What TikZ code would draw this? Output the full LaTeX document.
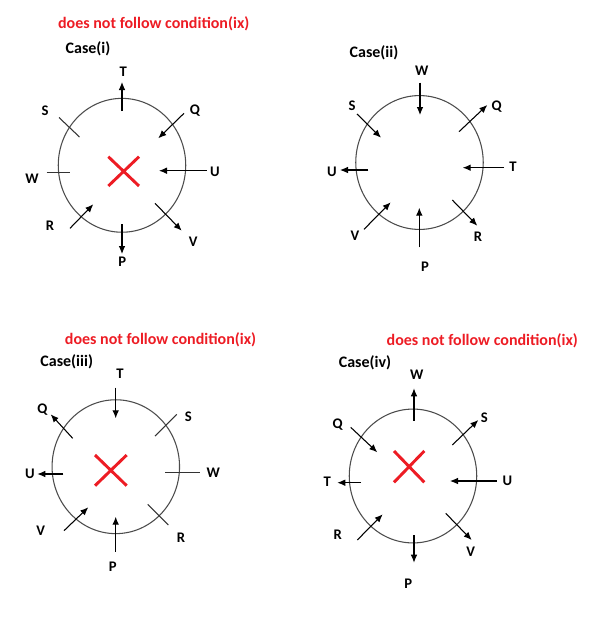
\documentclass[tikz,border=0pt]{standalone}
\usepackage{fontspec}
\setmainfont{Carlito}
\usetikzlibrary{arrows.meta}
\definecolor{warnred}{RGB}{237,28,36}

\begin{document}
\begin{tikzpicture}[x=0.75pt, y=-0.75pt,
	ring/.style={draw=black!70, line width=0.8pt},
	arr/.style={draw, line width=0.8pt, -{Latex[length=6pt,width=5pt]}},
	tick/.style={draw=black!80, line width=0.8pt},
	lbl/.style={font=\fontsize{11}{13}\selectfont\bfseries, inner sep=0pt},
	heading/.style={font=\fontsize{12}{14}\selectfont\bfseries, text=warnred, inner sep=0pt},
	casename/.style={font=\fontsize{12}{14}\selectfont\bfseries, inner sep=0pt},
	cross/.style={draw=warnred, line width=2.2pt}]
		
		\useasboundingbox (0,0) rectangle (605,619);
		
		% Case (i)
		\node[heading] (h1) at (153.7,24) {does not follow condition(ix)};
		\node[casename] (k1) at (88,49) {Case(i)};
		\coordinate (c1) at (122,165.3);
		\draw[ring] (c1) ellipse [x radius=47.8pt, y radius=50.2pt];
		\draw[arr] (122,111) -- (122,82);
		\draw[tick] (59,117.5) -- (79.5,137);
		\draw[arr] (184,113.3) -- (158.3,138.3);
		\draw[tick] (46.7,172.3) -- (70,172.3);
		\draw[arr] (206.7,170.7) -- (159,170.7);
		\draw[arr] (70,228.3) -- (93.3,204.3);
		\draw[arr] (122,224.3) -- (122,254);
		\draw[arr] (155,203.3) -- (181.7,230.7);
		\draw[cross] (108.3,156.7) -- (139,186) (139,156.7) -- (108.3,186);
		\node[lbl] (T1) at (123.3,72) {T};
		\node[lbl] (S1) at (45,110.5) {S};
		\node[lbl] (Q1) at (195,110.5) {Q};
		\node[lbl] (W1) at (32,179) {W};
		\node[lbl] (U1) at (215,172) {U};
		\node[lbl] (R1) at (50,225.7) {R};
		\node[lbl] (V1) at (193.3,241.5) {V};
		\node[lbl] (P1) at (122.3,261.7) {P};
		
		% Case (ii)
		\node[casename] (k2) at (374,53) {Case(ii)};
		\coordinate (c2) at (419.5,162.5);
		\draw[ring] (c2) ellipse [x radius=47.8pt, y radius=50.2pt];
		\draw[arr] (420,82.7) -- (420,115);
		\draw[arr] (357,114) -- (381,137.7);
		\draw[arr] (459,131.7) -- (487.3,105);
		\draw[arr] (368.3,170) -- (340,170);
		\draw[arr] (504,167.7) -- (462.7,167.7);
		\draw[arr] (364,229.3) -- (390.7,202.3);
		\draw[arr] (419.3,247.3) -- (419.3,207.7);
		\draw[arr] (452.3,200) -- (477.3,225.7);
		\node[lbl] (W2) at (421.7,71) {W};
		\node[lbl] (S2) at (352,106) {S};
		\node[lbl] (Q2) at (496.7,106.7) {Q};
		\node[lbl] (U2) at (332,171.7) {U};
		\node[lbl] (T2) at (513,167) {T};
		\node[lbl] (V2) at (355,235.7) {V};
		\node[lbl] (R2) at (478,237) {R};
		\node[lbl] (P2) at (425,266.7) {P};
		
		% Case (iii)
		\node[heading] (h3) at (160.5,339.3) {does not follow condition(ix)};
		\node[casename] (k3) at (66.7,361.7) {Case(iii)};
		\coordinate (c3) at (115.8,466.7);
		\draw[ring] (c3) ellipse [x radius=47.8pt, y radius=50.2pt];
		\draw[arr] (115.7,387.7) -- (115.7,418.3);
		\draw[arr] (72.7,438.3) -- (50.7,414.3);
		\draw[tick] (176.7,414.3) -- (155,436);
		\draw[arr] (63.3,474) -- (37.3,474);
		\draw[tick] (165,472.3) -- (200,472.3);
		\draw[arr] (64,530.7) -- (88.3,507.3);
		\draw[arr] (115.7,551.7) -- (115.7,516.7);
		\draw[tick] (147.7,504.3) -- (168.3,525);
		\draw[cross] (95,455) -- (126.7,485.7) (126.7,455) -- (95,485.7);
		\node[lbl] (T3) at (120,373.3) {T};
		\node[lbl] (Q3) at (42.3,410) {Q};
		\node[lbl] (S3) at (188.3,416.7) {S};
		\node[lbl] (U3) at (30,473.3) {U};
		\node[lbl] (W3) at (213.3,472.3) {W};
		\node[lbl] (V3) at (40.7,530.7) {V};
		\node[lbl] (R3) at (181,537.3) {R};
		\node[lbl] (P3) at (112.7,566.7) {P};
		
		% Case (iv)
		\node[heading] (h4) at (482.3,341) {does not follow condition(ix)};
		\node[casename] (k4) at (365,362.7) {Case(iv)};
		\coordinate (c4) at (413,476);
		\draw[ring] (c4) ellipse [x radius=47.8pt, y radius=50.2pt];
		\draw[arr] (414,420.7) -- (414,388.3);
		\draw[arr] (350.7,427.3) -- (377.3,452.3);
		\draw[arr] (452.3,445) -- (478.3,420);
		\draw[arr] (361,482.7) -- (337.3,482.7);
		\draw[arr] (496.7,481) -- (450,481);
		\draw[arr] (357.3,540) -- (382.7,514.3);
		\draw[arr] (414,535) -- (414,562.7);
		\draw[arr] (445.7,513.3) -- (471.7,540);
		\draw[cross] (394,451) -- (424.3,482.3) (424.3,451) -- (394,482.3);
		\node[lbl] (W4) at (416.7,374.3) {W};
		\node[lbl] (Q4) at (337.7,424.3) {Q};
		\node[lbl] (S4) at (484.3,417.7) {S};
		\node[lbl] (T4) at (327.3,481.7) {T};
		\node[lbl] (U4) at (507.3,480.7) {U};
		\node[lbl] (R4) at (337.7,534.3) {R};
		\node[lbl] (V4) at (470.7,551.7) {V};
		\node[lbl] (P4) at (408.3,583.3) {P};
		
\end{tikzpicture}
\end{document}
